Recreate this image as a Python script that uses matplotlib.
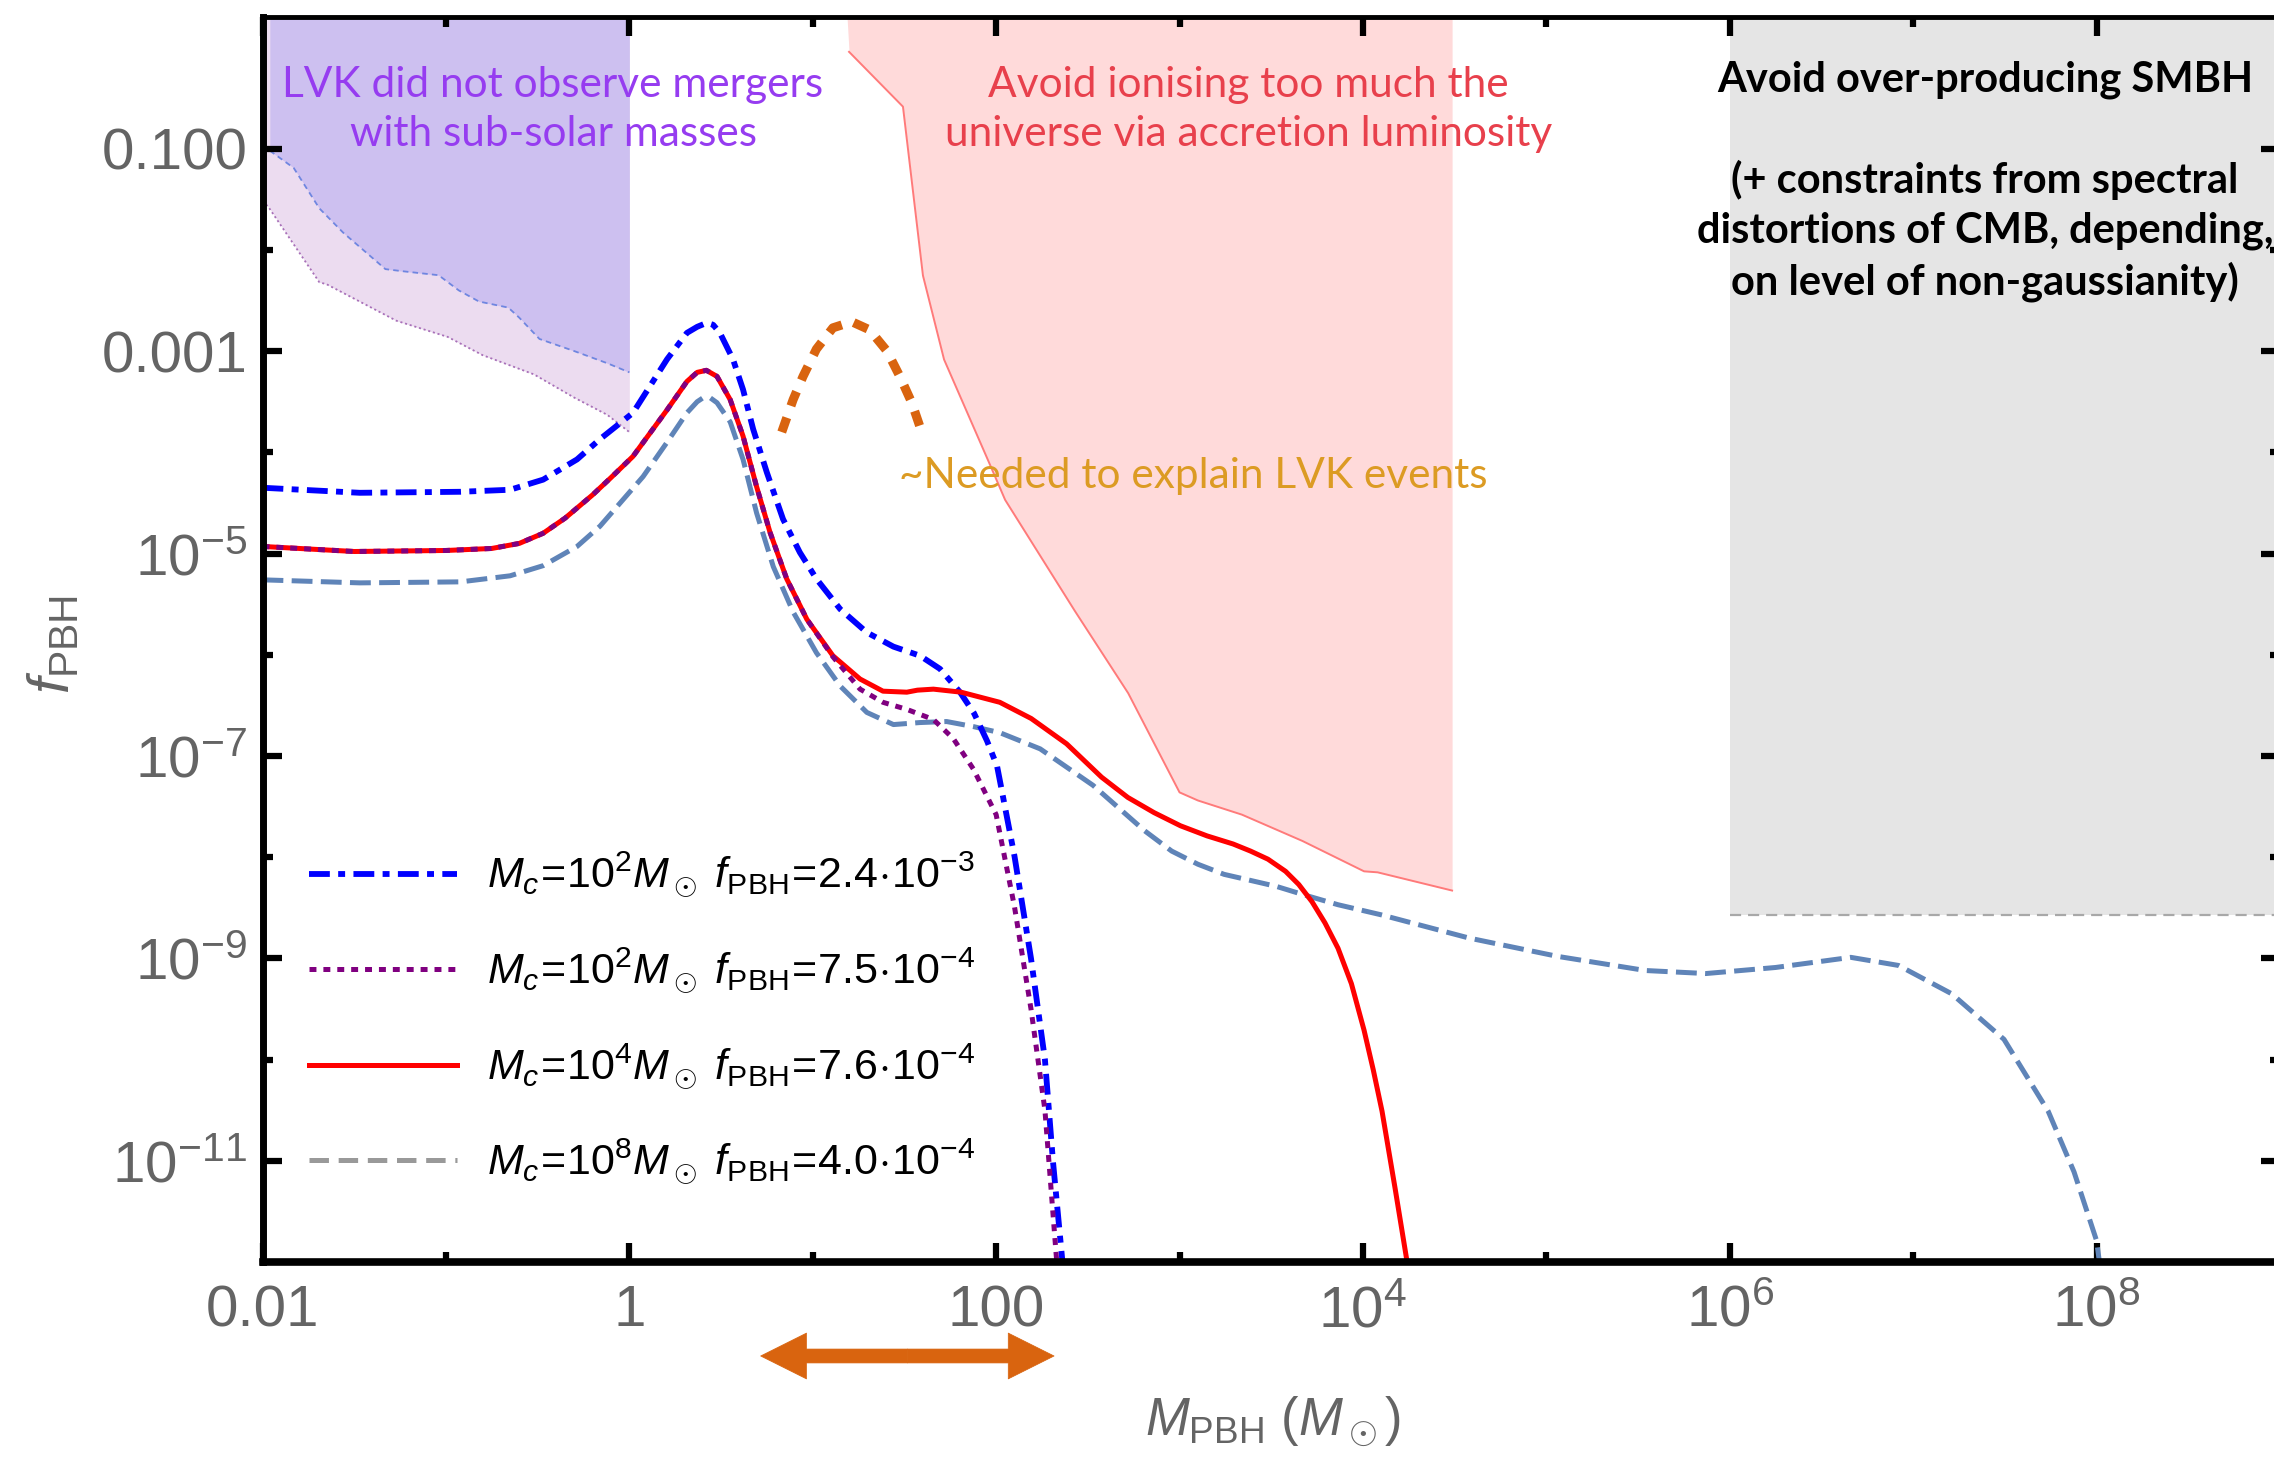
"""
PBH abundance f_PBH versus mass for several broad mass functions,
with the main observational constraints shaded.
"""
import numpy as np
import matplotlib
matplotlib.use('Agg')
import matplotlib.pyplot as plt
from matplotlib.lines import Line2D
from matplotlib.ticker import NullFormatter

plt.rcParams['font.family'] = ['Liberation Sans', 'DejaVu Sans']
plt.rcParams['mathtext.fontset'] = 'custom'
plt.rcParams['mathtext.rm'] = 'Liberation Sans'
plt.rcParams['mathtext.it'] = 'Liberation Sans:italic'
plt.rcParams['mathtext.bf'] = 'Liberation Sans:bold'
plt.rcParams['lines.scale_dashes'] = False

# ---------------- data: log10(M/Msun), log10(f_PBH) ----------------
blue_logm = [-2.0, -1.47, -0.92, -0.65, -0.47, -0.285, -0.16, 0.02, 0.206, 0.314, 0.37,
             0.423, 0.457, 0.494, 0.565, 0.62, 0.675, 0.75, 0.838, 0.93, 1.02, 1.15,
             1.295, 1.44, 1.585, 1.694, 1.803, 1.88, 1.95, 2.005, 2.10, 2.19, 2.266,
             2.31, 2.36, 2.375]
blue_logf = [-4.35, -4.40, -4.39, -4.37, -4.27, -4.07, -3.87, -3.61, -3.08, -2.82, -2.76,
             -2.72, -2.74, -2.82, -3.08, -3.38, -3.77, -4.20, -4.66, -4.99, -5.25, -5.55,
             -5.78, -5.92, -6.01, -6.14, -6.37, -6.58, -6.85, -7.10, -7.99, -9.0, -10.0,
             -11.01, -11.97, -12.3]

red_logm = [-2.0, -1.5, -1.0, -0.75, -0.6, -0.47, -0.35, -0.2, -0.1, 0.02, 0.206, 0.314,
            0.37, 0.42, 0.478, 0.55, 0.62, 0.694, 0.767, 0.858, 0.968, 1.11, 1.258, 1.383,
            1.513, 1.571, 1.658, 1.809, 2.02, 2.191, 2.384, 2.575, 2.718, 2.861, 3.005, 3.15,
            3.292, 3.387, 3.482, 3.578, 3.65, 3.722, 3.793, 3.864, 3.937, 4.006, 4.056, 4.104,
            4.175, 4.238, 4.26]
red_logf = [-4.93, -4.98, -4.97, -4.95, -4.90, -4.80, -4.65, -4.42, -4.25, -4.04, -3.58, -3.30,
            -3.21, -3.19, -3.25, -3.48, -3.84, -4.34, -4.79, -5.25, -5.65, -6.01, -6.24, -6.36,
            -6.37, -6.35, -6.34, -6.37, -6.47, -6.63, -6.88, -7.21, -7.41, -7.56, -7.69, -7.79,
            -7.87, -7.94, -8.02, -8.14, -8.27, -8.44, -8.65, -8.90, -9.25, -9.71, -10.10, -10.51,
            -11.27, -11.97, -12.2]

purple_logm = [-2.0, -1.5, -1.0, -0.75, -0.6, -0.47, -0.35, -0.2, -0.1, 0.02, 0.206, 0.314,
               0.37, 0.42, 0.478, 0.55, 0.62, 0.694, 0.767, 0.858, 0.968, 1.11, 1.258, 1.383,
               1.513, 1.658, 1.767, 1.876, 2.0, 2.10, 2.19, 2.266, 2.327, 2.34]
purple_logf = [-4.93, -4.98, -4.97, -4.95, -4.90, -4.80, -4.65, -4.42, -4.25, -4.04, -3.58, -3.30,
               -3.21, -3.19, -3.25, -3.48, -3.84, -4.34, -4.79, -5.25, -5.65, -6.02, -6.34, -6.47,
               -6.54, -6.64, -6.83, -7.13, -7.58, -8.49, -9.5, -10.5, -11.92, -12.2]

steel_logm = [-2.0, -1.47, -0.92, -0.65, -0.47, -0.285, -0.16, 0.075, 0.206, 0.314, 0.37,
              0.403, 0.44, 0.478, 0.55, 0.62, 0.694, 0.785, 0.894, 1.02, 1.15, 1.295, 1.44,
              1.585, 1.73, 1.876, 2.02, 2.24, 2.528, 2.81, 2.957, 3.10, 3.243, 3.387, 3.53,
              3.674, 3.864, 4.10, 4.58, 5.06, 5.54, 5.87, 6.25, 6.66, 6.92, 7.21, 7.495, 7.736,
              7.877, 8.0, 8.03]
steel_logf = [-5.26, -5.29, -5.28, -5.22, -5.12, -4.93, -4.73, -4.24, -3.90, -3.61, -3.50,
              -3.46, -3.46, -3.51, -3.70, -4.07, -4.60, -5.13, -5.58, -5.98, -6.31, -6.57, -6.69,
              -6.67, -6.66, -6.71, -6.77, -6.93, -7.29, -7.74, -7.94, -8.07, -8.17, -8.23, -8.29,
              -8.37, -8.47, -8.57, -8.80, -8.98, -9.12, -9.15, -9.09, -8.99, -9.07, -9.35, -9.80,
              -10.51, -11.11, -11.79, -12.2]

# GW-preferred bump
lvk_bump_logm = [0.831, 0.893, 0.947, 1.02, 1.11, 1.213, 1.31, 1.405, 1.475, 1.54, 1.585]
lvk_bump_logf = [-3.80, -3.48, -3.25, -2.98, -2.77, -2.71, -2.79, -3.00, -3.25, -3.51, -3.75]
lvk_mass_range = [5.2, 207.0]

# sub-solar merger bounds (two choices of mass function)
subsolar_a_logm = [-1.96, -1.83, -1.69, -1.56, -1.33, -1.24, -1.04, -0.93, -0.82, -0.66,
                   -0.60, -0.49, -0.30, -0.12, 0.0]
subsolar_a_logf = [-1.02, -1.19, -1.59, -1.83, -2.19, -2.21, -2.25, -2.40, -2.51, -2.57,
                   -2.67, -2.88, -3.00, -3.12, -3.21]
subsolar_b_logm = [-2.0, -1.97, -1.69, -1.65, -1.27, -0.99, -0.80, -0.52, -0.30, -0.12, 0.0]
subsolar_b_logf = [-1.52, -1.57, -2.32, -2.34, -2.70, -2.86, -3.04, -3.23, -3.46, -3.63, -3.80]

# accretion (ionisation) bound
accretion_logm = [1.187, 1.198, 1.492, 1.601, 1.716, 1.961, 2.049, 2.43, 2.72, 3.00, 3.10,
                  3.34, 3.67, 4.006, 4.08, 4.486]
accretion_logf = [0.30, -0.043, -0.585, -2.254, -3.083, -4.10, -4.47, -5.57, -6.38, -7.36,
                  -7.44, -7.58, -7.84, -8.14, -8.15, -8.33]

# SMBH over-production bound
smbh_mass_min = 1e6
smbh_f_max = 2.7e-9

legend_labels = [
    r'$M_c\!=\!10^2M_\odot\ f_{\rm PBH}\!=\!2.4\!\cdot\!10^{-3}$',
    r'$M_c\!=\!10^2M_\odot\ f_{\rm PBH}\!=\!7.5\!\cdot\!10^{-4}$',
    r'$M_c\!=\!10^4M_\odot\ f_{\rm PBH}\!=\!7.6\!\cdot\!10^{-4}$',
    r'$M_c\!=\!10^8M_\odot\ f_{\rm PBH}\!=\!4.0\!\cdot\!10^{-4}$',
]

x_major = [1e-2, 1, 1e2, 1e4, 1e6, 1e8]
x_major_labels = ['0.01', '1', '100', r'$10^4$', r'$10^6$', r'$10^8$']
x_minor = [1e-1, 1e1, 1e3, 1e5, 1e7]
y_major = [1e-1, 1e-3, 1e-5, 1e-7, 1e-9, 1e-11]
y_major_labels = ['0.100', '0.001', r'$10^{-5}$', r'$10^{-7}$', r'$10^{-9}$', r'$10^{-11}$']
y_minor = [1e-2, 1e-4, 1e-6, 1e-8, 1e-10]

XMIN, XMAX = 1e-2, 1e9
YMIN, YMAX = 1e-12, 2.0


def p10(a):
    return 10.0 ** np.asarray(a)


fig = plt.figure(figsize=(22.74, 14.57), dpi=100)
ax = fig.add_axes([0.11544, 0.13384, 0.8872, 0.85449])
ax.set_xscale('log')
ax.set_yscale('log')
ax.set_xlim(XMIN, XMAX)
ax.set_ylim(YMIN, YMAX)

# ---- shaded constraints ----
ax.fill_between(p10(subsolar_b_logm), p10(subsolar_b_logf), YMAX, color='#ecdcf0', lw=0, zorder=1)
ax.plot(p10(subsolar_b_logm), p10(subsolar_b_logf), color='#a870b8', lw=1.3,
        ls=(0, (1.5, 2.0)), zorder=1.2)
ax.fill_between(p10(subsolar_a_logm), p10(subsolar_a_logf), YMAX, color='#cdc0f0', lw=0, zorder=1.1)
ax.plot(p10(subsolar_a_logm), p10(subsolar_a_logf), color='#6f86e0', lw=1.3,
        ls=(0, (4, 3)), zorder=1.2)

ax.fill_between(p10(accretion_logm), p10(accretion_logf), YMAX, color='#ffdada', lw=0, zorder=1)
ax.plot(p10(accretion_logm[1:]), p10(accretion_logf[1:]), color='#ff7a7a', lw=1.4, zorder=1.2)

ax.fill_between([smbh_mass_min, XMAX], smbh_f_max, YMAX, color='#e5e5e5', lw=0, zorder=1)
ax.plot([smbh_mass_min, XMAX], [smbh_f_max, smbh_f_max], color='#a8a8a8', lw=1.6,
        ls=(0, (8, 5)), zorder=1.2)

# ---- mass functions ----
l_steel, = ax.plot(p10(steel_logm), p10(steel_logf), color='#5f84b8', lw=3.6,
                   ls=(0, (15, 6)), zorder=3)
l_blue, = ax.plot(p10(blue_logm), p10(blue_logf), color='#0000ff', lw=4.2,
                  ls=(0, (15, 6, 5, 6)), zorder=3.2)
l_red, = ax.plot(p10(red_logm), p10(red_logf), color='#ff0000', lw=3.6, zorder=3.3)
l_purple, = ax.plot(p10(purple_logm), p10(purple_logf), color='#800080', lw=3.6,
                    ls=(0, (5, 5)), zorder=3.4)

ax.plot(p10(lvk_bump_logm), p10(lvk_bump_logf), color='#d9640f', lw=6.5,
        ls=(0, (11, 9)), zorder=3)

# orange double arrow below the axis marking the LVK mass window
lo, hi = lvk_mass_range
mid = np.sqrt(lo * hi)
for tip in (lo, hi):
    ax.annotate('', xy=(tip, -0.0755), xytext=(mid, -0.0755),
                xycoords=('data', 'axes fraction'), textcoords=('data', 'axes fraction'),
                annotation_clip=False,
                arrowprops=dict(arrowstyle='simple,head_length=33,head_width=33,tail_width=10',
                                mutation_scale=1, fc='#d9640f', ec='#d9640f', lw=0.5,
                                shrinkA=0, shrinkB=0))

# ---- annotations ----
ann_font = ['Lato', 'DejaVu Sans']
ax.text(0.144, 0.926, 'LVK did not observe mergers\nwith sub-solar masses',
        transform=ax.transAxes, ha='center', va='center', color='#963cf0',
        fontsize=30.5, family=ann_font, linespacing=1.36, zorder=5)
ax.text(0.4888, 0.926, 'Avoid ionising too much the\nuniverse via accretion luminosity',
        transform=ax.transAxes, ha='center', va='center', color='#e8404c',
        fontsize=30.5, family=ann_font, linespacing=1.36, zorder=5)
ax.text(0.3155, 0.6313, '~Needed to explain LVK events', transform=ax.transAxes,
        ha='left', va='center', color='#dc9b23', fontsize=30.5, family=ann_font, zorder=5)
ax.text(0.8538, 0.868,
        'Avoid over-producing SMBH\n\n(+ constraints from spectral\n'
        'distortions of CMB, depending,\non level of non-gaussianity)',
        transform=ax.transAxes, ha='center', va='center', color='black',
        fontsize=30, family=ann_font, fontweight='bold', linespacing=1.36, zorder=5)

# ---- legend ----
gray_proxy = Line2D([], [], color='#999999', lw=3.6, ls=(0, (14, 7)))
ax.legend([l_blue, l_purple, l_red, gray_proxy], legend_labels,
          loc='center left', bbox_to_anchor=(0.023, 0.1955), frameon=False,
          fontsize=31, handlelength=3.45, handletextpad=0.68, labelspacing=1.05,
          borderpad=0, borderaxespad=0)

# ---- axes styling ----
ax.set_xticks(x_major)
ax.set_xticklabels(x_major_labels)
ax.set_xticks(x_minor, minor=True)
ax.set_yticks(y_major)
ax.set_yticklabels(y_major_labels)
ax.set_yticks(y_minor, minor=True)
ax.xaxis.set_minor_formatter(NullFormatter())
ax.yaxis.set_minor_formatter(NullFormatter())

ax.tick_params(which='both', direction='in', top=True, right=True, color='black',
               labelcolor='#646464', labelsize=42)
ax.tick_params(which='major', length=14, width=4.5)
ax.tick_params(which='minor', length=7, width=4.5)
ax.tick_params(axis='x', which='major', pad=16)
ax.tick_params(axis='y', which='major', pad=11)

for side, w in (('left', 5), ('bottom', 5.5), ('top', 3.5), ('right', 3.5)):
    ax.spines[side].set_linewidth(w)
    ax.spines[side].set_zorder(6)

ax.set_xlabel(r'$M_{\rm PBH}$ ($M_\odot$)', fontsize=38, color='#646464')
ax.xaxis.set_label_coords(0.5009, -0.107)
ax.set_ylabel(r'$f_{\rm PBH}$', fontsize=42, color='#646464')
ax.yaxis.set_label_coords(-0.090, 0.4956)

fig.savefig('out.png', dpi=100, facecolor='white')
